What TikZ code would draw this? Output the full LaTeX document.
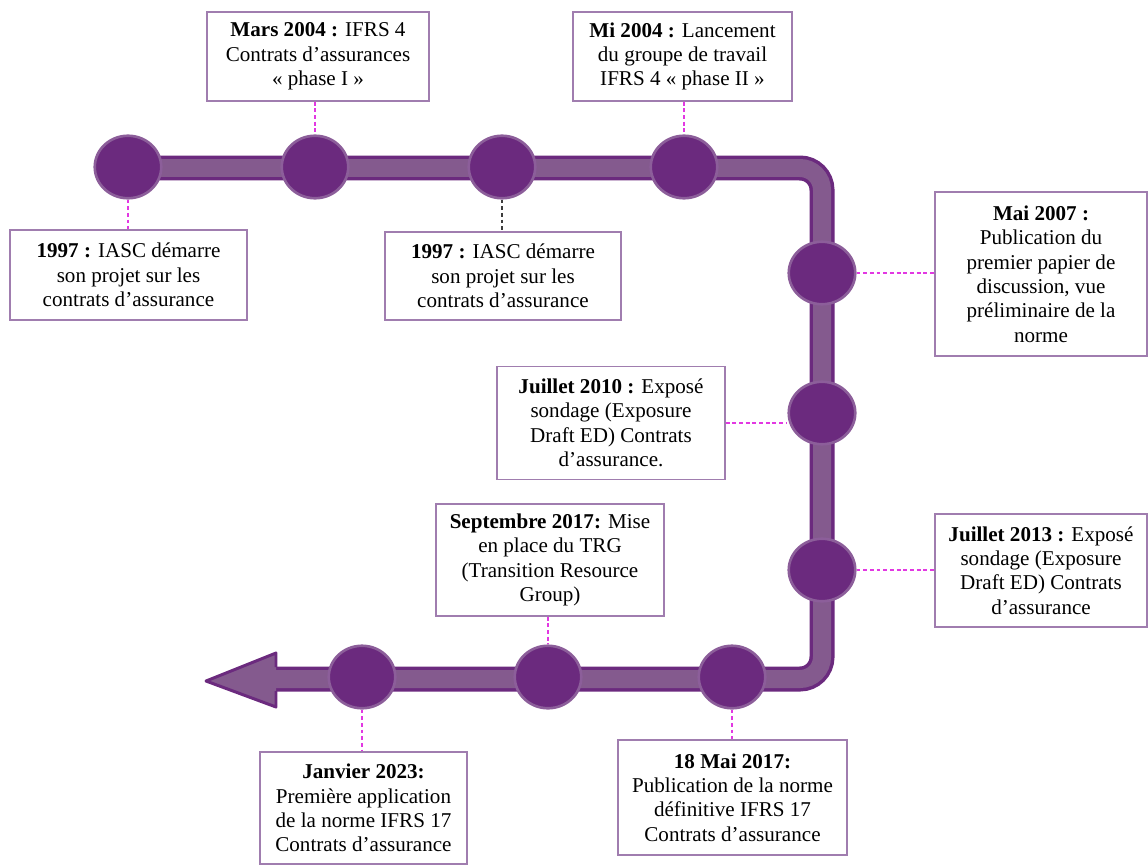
\documentclass[tikz,border=0pt]{standalone}
\usepackage{fontspec}
\setmainfont{Liberation Serif}
\usepackage{xcolor}
\usetikzlibrary{shapes.geometric,calc}

\definecolor{plum}{RGB}{107,42,126}
\definecolor{plumedge}{RGB}{140,94,154}
\definecolor{plumlight}{RGB}{132,90,142}
\definecolor{boxedge}{RGB}{160,125,175}
\definecolor{linkpink}{RGB}{226,56,226}
\definecolor{linkgrey}{RGB}{60,60,60}

\begin{document}
\begin{tikzpicture}[
    x=0.02cm, y=-0.02cm,
    milestone/.style={ellipse, draw=plumedge, line width=1.5pt, fill=plum, minimum width=1.33cm, minimum height=1.25cm, inner sep=0pt},
    event/.style={draw=boxedge, line width=0.8pt, fill=white, align=center, inner sep=2pt, font=\fontsize{12pt}{13.9pt}\selectfont},
    link/.style={draw=linkpink, line width=0.9pt, dash pattern=on 2.2pt off 1.6pt},
    track/.style={draw=plum, line width=0.5cm, rounded corners=0.44cm},
    trackfill/.style={draw=plumlight, line width=0.36cm, rounded corners=0.44cm},
    head/.style={draw=plum, fill=plumlight, line width=1.7pt, line join=round}
]
    \useasboundingbox (0,0) rectangle (1148,865);

    % Track
    \coordinate (start) at (128,168);
    \coordinate (turnA) at (822,168);
    \coordinate (turnB) at (822,679);
    \coordinate (tail) at (276,679);
    \coordinate (tip) at (206,681);
    \coordinate (headtop) at (276,653);
    \coordinate (headbot) at (276,707);
    \draw[track] (start) -- (turnA) -- (turnB) -- (tail);
    \filldraw[head] ($(tail)+(0,-12)$) -- (headtop) -- (tip) -- (headbot) -- ($(tail)+(0,12)$);
    \draw[trackfill] (start) -- (turnA) -- (turnB) -- ($(tail)+(-6,0)$);

    % Milestones
    \node[milestone] (c1997) at (128,167) {};
    \node[milestone] (c2004) at (315,167) {};
    \node[milestone] (c1997b) at (502,167) {};
    \node[milestone] (cmi) at (684,167) {};
    \node[milestone] (c2007) at (822,273) {};
    \node[milestone] (c2010) at (822,413) {};
    \node[milestone] (c2013) at (822,570) {};
    \node[milestone] (cmai17) at (732,677) {};
    \node[milestone] (csept) at (548,677) {};
    \node[milestone] (c2023) at (362,677) {};

    % Nodes
    \node[event, minimum width=4.74cm, minimum height=1.8cm] (e1997) at (128.5,275) {\textbf{1997 :} IASC démarre\\son projet sur les\\contrats d’assurance};
    \node[event, minimum width=4.44cm, minimum height=1.78cm] (e2004) at (318,56.5) {\textbf{Mars 2004 :} IFRS 4\\Contrats d’assurances\\« phase I »};
    \node[event, minimum width=4.72cm, minimum height=1.76cm] (e1997b) at (503,276) {\textbf{1997 :} IASC démarre\\son projet sur les\\contrats d’assurance};
    \node[event, minimum width=4.38cm, minimum height=1.78cm] (emi) at (682.5,56.5) {\textbf{Mi 2004 :} Lancement\\du groupe de travail\\IFRS 4 « phase II »};
    \node[event, minimum width=4.24cm, minimum height=3.28cm] (e2007) at (1041,274) {\textbf{Mai 2007 :}\\Publication du\\premier papier de\\discussion, vue\\préliminaire de la\\norme};
    \node[event, minimum width=4.56cm, minimum height=2.26cm] (e2010) at (611,423) {\textbf{Juillet 2010 :} Exposé\\sondage (Exposure\\Draft ED) Contrats\\d’assurance.};
    \node[event, minimum width=4.24cm, minimum height=2.26cm] (e2013) at (1041,570.5) {\textbf{Juillet 2013 :} Exposé\\sondage (Exposure\\Draft ED) Contrats\\d’assurance};
    \node[event, minimum width=4.56cm, minimum height=2.24cm] (esept) at (550,560) {\textbf{Septembre 2017:} Mise\\en place du TRG\\(Transition Resource\\Group)};
    \node[event, minimum width=4.14cm, minimum height=2.24cm] (e2023) at (363.5,808) {\textbf{Janvier 2023:}\\Première application\\de la norme IFRS 17\\Contrats d’assurance};
    \node[event, minimum width=4.58cm, minimum height=2.3cm] (emai17) at (732.5,797.5) {\textbf{18 Mai 2017:}\\Publication de la norme\\définitive IFRS 17\\Contrats d’assurance};

    % Connections
    \draw[link] (c1997.south) -- (c1997.south |- e1997.north);
    \draw[link] (e2004.south -| c2004) -- (c2004.north);
    \draw[link, draw=linkgrey] (c1997b.south) -- (c1997b.south |- e1997b.north);
    \draw[link] (emi.south -| cmi) -- (cmi.north);
    \draw[link] (c2007.east) -- (c2007.east -| e2007.west);
    \draw[link] (e2010.east) -- (e2010.east -| c2010.west);
    \draw[link] (c2013.east) -- (c2013.east -| e2013.west);
    \draw[link] (esept.south -| csept) -- (csept.north);
    \draw[link] (cmai17.south) -- (cmai17.south |- emai17.north);
    \draw[link] (c2023.south) -- (c2023.south |- e2023.north);
\end{tikzpicture}
\end{document}
